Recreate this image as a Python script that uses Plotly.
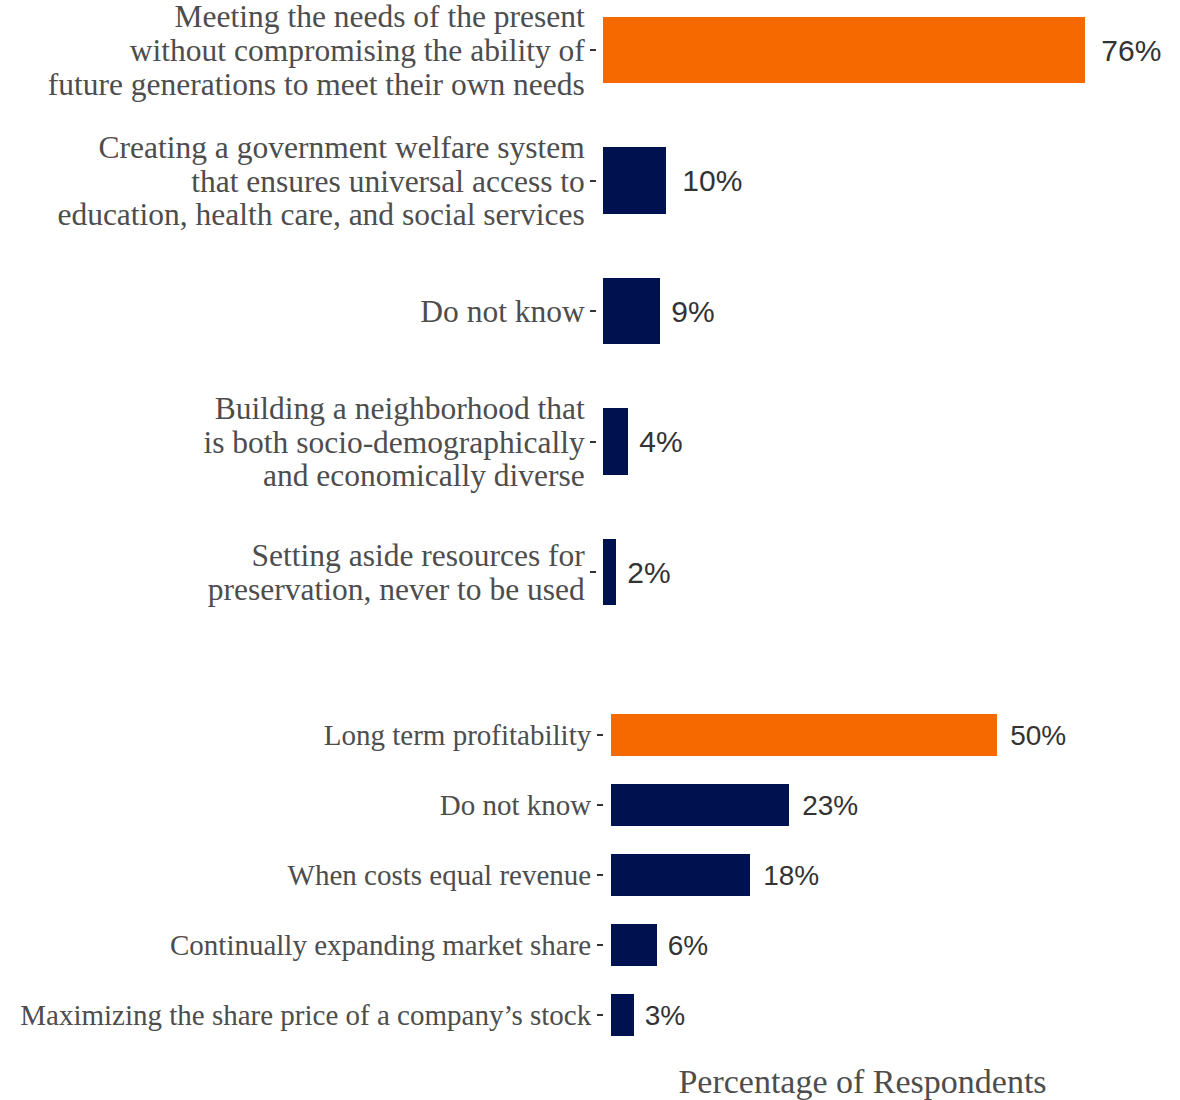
import plotly.graph_objects as go

W, H = 1180, 1100

top_labels = [
    ["Meeting the needs of the present", "without compromising the ability of", "future generations to meet their own needs"],
    ["Creating a government welfare system", "that ensures universal access to", "education, health care, and social services"],
    ["Do not know"],
    ["Building a neighborhood that", "is both socio-demographically", "and economically diverse"],
    ["Setting aside resources for", "preservation, never to be used"],
]
top_values = [76, 10, 9, 4, 2]

bottom_labels = [
    "Long term profitability",
    "Do not know",
    "When costs equal revenue",
    "Continually expanding market share",
    "Maximizing the share price of a company\u2019s stock",
]
bottom_values = [50, 23, 18, 6, 3]

ORANGE = "#F66800"
NAVY = "#00114F"
top_colors = [ORANGE] + [NAVY] * 4
bottom_colors = [ORANGE] + [NAVY] * 4

serif = "Liberation Serif, Times New Roman, serif"
sans = "Liberation Sans, Arial, sans-serif"

# glyph size larger than base size -> tighter line spacing like the reference
TOP_GLYPH = 31.5
top_tick_text = ["<br>".join(f"<span style='font-size:{TOP_GLYPH}px'>{ln}</span>" for ln in lines)
                 for lines in top_labels]


def value_label(v, extra):
    # gap grows with the label width (like a relative hjust)
    pad = "\u00a0" + (extra if len(str(v)) > 1 else "")
    return f"{pad}{v}%"


fig = go.Figure()

fig.add_trace(go.Bar(
    x=top_values, y=top_tick_text, orientation="h",
    marker=dict(color=top_colors, line=dict(width=0)),
    width=0.51,
    text=[value_label(v, "\u2006") for v in top_values], textposition="outside",
    textfont=dict(family=sans, size=30, color="#333333"),
    constraintext="none", cliponaxis=False,
    xaxis="x", yaxis="y", showlegend=False, hoverinfo="skip",
))
fig.add_trace(go.Bar(
    x=bottom_values, y=bottom_labels, orientation="h",
    marker=dict(color=bottom_colors, line=dict(width=0)),
    width=0.61,
    text=[value_label(v, "\u200a") for v in bottom_values], textposition="outside",
    textfont=dict(family=sans, size=28, color="#333333"),
    constraintext="none", cliponaxis=False,
    xaxis="x2", yaxis="y2", showlegend=False, hoverinfo="skip",
))


def px_x(p):
    return p / W


def px_y(p):
    return 1 - p / H


# top panel geometry (page pixels)
top_left, right_edge = 597, 1121
top_scale = 6.34   # px per percent
top_zero = 603
top_range = [-(top_zero - top_left) / top_scale, (right_edge - top_zero) / top_scale]
top_dom_px = (0, 640)
t_spacing, t_c0 = 130.5, 50
top_yrange = [(top_dom_px[1] - t_c0) / t_spacing, (top_dom_px[0] - t_c0) / t_spacing]

# bottom panel geometry
bot_left = 604
bot_scale = 7.72
bot_zero = 611
bot_range = [-(bot_zero - bot_left) / bot_scale, (right_edge - bot_zero) / bot_scale]
bot_dom_px = (660, 1050)
b_spacing, b_c0 = 70, 735
bot_yrange = [(bot_dom_px[1] - b_c0) / b_spacing, (bot_dom_px[0] - b_c0) / b_spacing]

common_x = dict(showgrid=False, zeroline=False, showline=False, showticklabels=False,
                ticks="", automargin=False, fixedrange=True)

fig.update_layout(
    width=W, height=H,
    margin=dict(l=0, r=0, t=0, b=0),
    paper_bgcolor="white", plot_bgcolor="white",
    bargap=0,
    xaxis=dict(domain=[px_x(top_left), px_x(right_edge)], range=top_range, anchor="y", **common_x),
    yaxis=dict(domain=[px_y(top_dom_px[1]), px_y(top_dom_px[0])], range=top_yrange,
               anchor="x", type="category", showgrid=False, zeroline=False, showline=False,
               ticks="outside", ticklen=6, tickwidth=2, tickcolor="#333333",
               tickfont=dict(family=serif, size=26, color="#4D4D4D"),
               ticklabelshift=-2,
               automargin=False, fixedrange=True),
    xaxis2=dict(domain=[px_x(bot_left), px_x(right_edge)], range=bot_range, anchor="y2",
                title=dict(text="Percentage of Respondents", standoff=19,
                           font=dict(family=serif, size=34, color="#4D4D4D")),
                **common_x),
    yaxis2=dict(domain=[px_y(bot_dom_px[1]), px_y(bot_dom_px[0])], range=bot_yrange,
                anchor="x2", type="category", showgrid=False, zeroline=False, showline=False,
                ticks="outside", ticklen=6, tickwidth=2, tickcolor="#333333",
                tickfont=dict(family=serif, size=29, color="#4D4D4D"),
                automargin=False, fixedrange=True),
)

fig.write_html(
    "out.html",
    config={"displayModeBar": False},
    post_script="document.body.style.margin='0';document.body.style.overflow='hidden';",
)
